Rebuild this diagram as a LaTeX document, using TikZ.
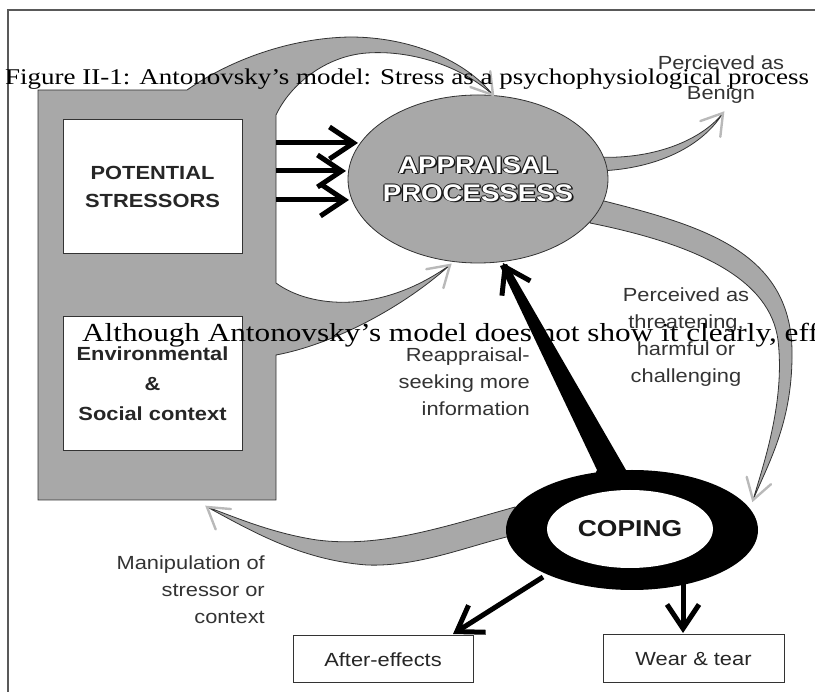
\documentclass[tikz,border=0pt]{standalone}
\usepackage{fontspec}
\setmainfont{Liberation Serif}
\newfontfamily\capfont{Liberation Serif}[FakeStretch=1.2]
\newfontfamily\labelfont{Liberation Sans}[FakeStretch=1.15]
\usepackage{xcolor}
\usetikzlibrary{
	arrows.meta,
	calc,
	shapes.geometric,
	positioning
}
\definecolor{bandgray}{RGB}{168,168,168}
\tikzset{
	band/.style={fill=bandgray, draw=black!80, line width=0.8pt},
	tipline/.style={draw=gray!55, line width=2.4pt, line cap=round},
	blackarrow/.style={draw=black, line width=5pt, -{Straight Barb[length=24pt,width=32pt]}},
	whitebox/.style={draw=black!80, fill=white, line width=1pt, inner sep=0},
	boxtext/.style={font=\labelfont\bfseries\fontsize{19}{28}\selectfont, align=center, text=black!85},
	smalltext/.style={font=\labelfont\fontsize{19}{27}\selectfont, text=black!80, inner sep=0},
	bigtext/.style={font=\labelfont\bfseries\fontsize{24}{28}\selectfont, align=center, inner sep=0}
}

\begin{document}
\begin{tikzpicture}[x=1pt, y=-1pt]
		\useasboundingbox (0,0) rectangle (815,692);
		\clip (0,0) rectangle (815,692);
		\draw[black!65, line width=1.2pt] (8,10) rectangle (840,720);
		% gray panel and its two bands into the appraisal
		\path[band] (38,90) -- (187,90)
			.. controls (230,60) and (290,38) .. (350,37)
			.. controls (410,37) and (465,60) .. (493,95)
			.. controls (460,65) and (410,50) .. (367,53)
			.. controls (325,56) and (290,85) .. (276,115)
			-- (276,283)
			.. controls (310,308) and (380,315) .. (450,265)
			.. controls (400,310) and (330,345) .. (276,355)
			-- (276,500) -- (38,500) -- cycle;
		\path[band] (596,157) .. controls (650,160) and (700,142) .. (723,113)
			.. controls (700,150) and (650,170) .. (596,171) -- cycle;
		\path[band] (596,199) .. controls (700,225) and (790,250) .. (792,350)
			.. controls (793,420) and (770,460) .. (753,500)
			.. controls (765,460) and (785,400) .. (778,340)
			.. controls (770,280) and (700,245) .. (590,223) -- cycle;
		\path[band] (515,507) .. controls (440,528) and (380,548) .. (317,540)
			.. controls (270,533) and (230,515) .. (207,507)
			.. controls (250,530) and (300,560) .. (367,565)
			.. controls (420,567) and (470,545) .. (515,535) -- cycle;
		% boxes and ellipses
		\node[whitebox, boxtext, minimum width=179pt, minimum height=134pt] (stressors) at (152.5,187) {POTENTIAL\\STRESSORS};
		\node[whitebox, boxtext, minimum width=179pt, minimum height=134pt, font=\labelfont\bfseries\fontsize{19}{30}\selectfont] (context) at (152.5,384) {Environmental\\\&\\Social context};
		\node[ellipse, fill=bandgray, draw=black!80, line width=0.8pt, minimum width=260pt, minimum height=168pt, inner sep=0] (appraisal) at (478,179) {};
		\foreach \dx/\dy in {-1.2/0, 1.2/0, 0/-1.2, 1.6/1.6}
			\node[bigtext, text=black!90] (outline\dx\dy) at ($(appraisal)+(\dx,\dy)$) {APPRAISAL\\PROCESSESS};
		\node[bigtext, text=white] (appraisallabel) at (appraisal) {APPRAISAL\\PROCESSESS};
		\fill[black] (500,266) -- (597,470) -- (590,486) -- (640,486) -- (626,470) -- (507,264) -- cycle;
		\fill[black] (632,530) ellipse [x radius=126, y radius=60];
		\node[ellipse, fill=white, minimum width=166pt, minimum height=78pt, inner sep=0, font=\labelfont\bfseries\fontsize{23}{27}\selectfont, text=black!90] (coping) at (630,529) {COPING};
		\node[whitebox, minimum width=180pt, minimum height=47pt, font=\labelfont\fontsize{19}{27}\selectfont, text=black!85] (after) at (383,659.5) {After-effects};
		\node[whitebox, minimum width=181pt, minimum height=48pt, font=\labelfont\fontsize{19}{27}\selectfont, text=black!85] (wear) at (693.5,659) {Wear \& tear};
		% arrows
		\coordinate (aftertip) at (453,634);
		\coordinate (weartip) at (683,633);
		\coordinate (reapptip) at (503,263);
		\foreach \y/\tx in {143/358, 171/346, 200/349}
			\draw[blackarrow] (276,\y) -- (\tx,\y);
		\draw[blackarrow] (517,290) -- (reapptip);
		\draw[blackarrow] (543,577) -- (aftertip);
		\draw[blackarrow] (683,583) -- (weartip);
		% tips of the gray bands
		\coordinate (toptip) at (493,95);
		\coordinate (lowtip) at (450,265);
		\coordinate (benigntip) at (723,113);
		\coordinate (threattip) at (753,500);
		\coordinate (maniptip) at (207,507);
		\foreach \p/\q in {toptip/{(465,60)}, lowtip/{(400,310)}, benigntip/{(700,142)}, threattip/{(765,460)}, maniptip/{(235,528)}}
			\draw[tipline] ($(\p)!24pt!32:\q$) -- (\p) -- ($(\p)!24pt!-32:\q$);
		% labels
		\node[smalltext, align=center, anchor=north, font=\labelfont\fontsize{19}{30}\selectfont] (benign) at (721,56) {Percieved as\\Benign};
		\node[smalltext, align=center, anchor=north] (threat) at (686,288) {Perceived as\\threatening,\\harmful or\\challenging};
		\node[smalltext, align=right, anchor=north east] (reapp) at (530,348) {Reappraisal-\\seeking more\\information};
		\node[smalltext, align=right, anchor=north east] (manip) at (265,556) {Manipulation of\\stressor or\\context};
		% text of the page lying over the figure
		\node[anchor=base west, inner sep=0, font=\capfont\fontsize{22.5}{27}\selectfont] (caption) at (5,85) {Figure II-1: Antonovsky’s model: Stress as a psychophysiological process};
		\node[anchor=base west, inner sep=0, font=\capfont\fontsize{26}{30}\selectfont] (bodytext) at (82,342) {Although Antonovsky’s model does not show it clearly, eff};
	\end{tikzpicture}
\end{document}
